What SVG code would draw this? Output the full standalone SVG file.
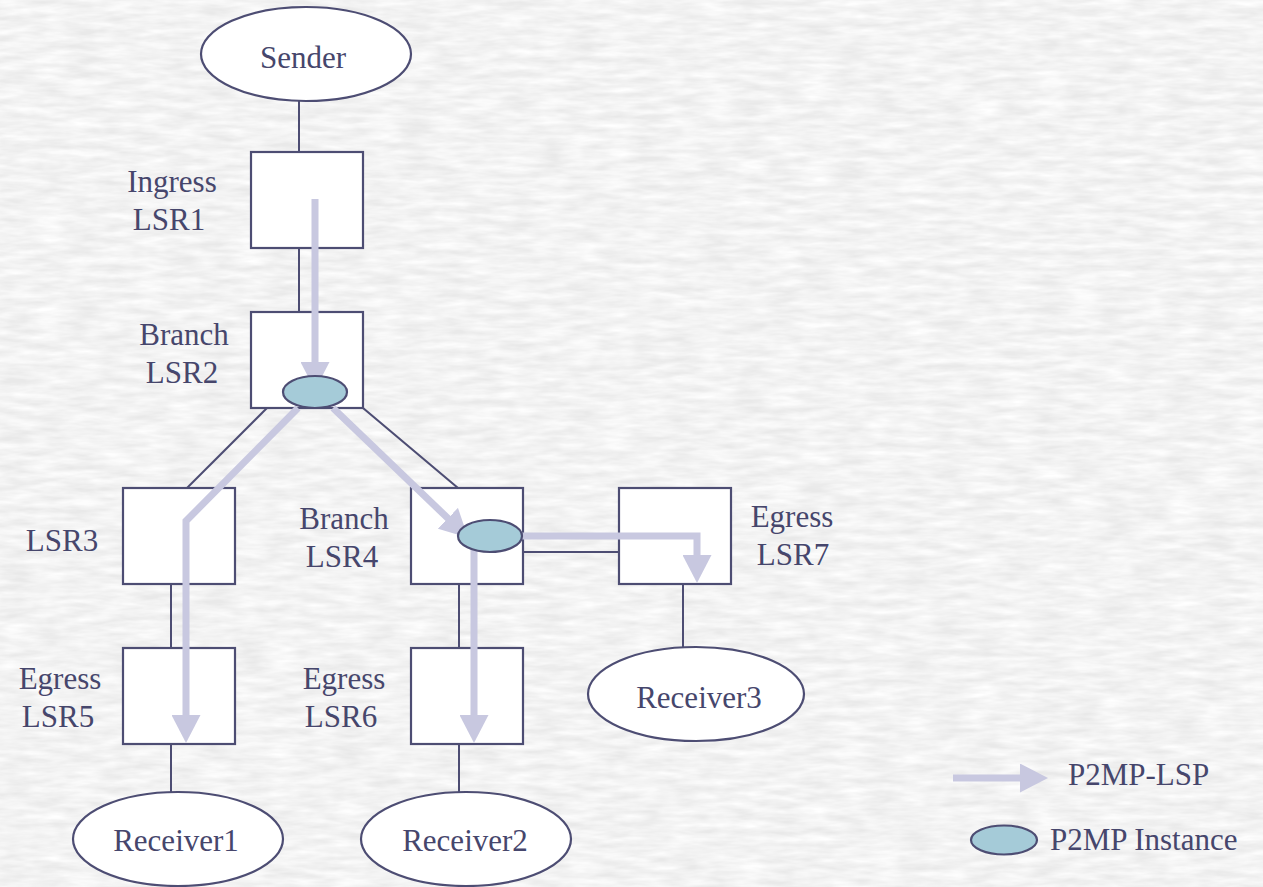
<svg xmlns="http://www.w3.org/2000/svg" width="1263" height="887" viewBox="0 0 1263 887">
  <style>
    .box { fill: #ffffff; stroke: #4d4d73; stroke-width: 2.2; }
    .end { fill: #ffffff; stroke: #4d4d73; stroke-width: 2.2; }
    .inst { fill: #a5cbd8; stroke: #4d4d73; stroke-width: 2.2; }
    .link { fill: none; stroke: #4d4d73; stroke-width: 2; }
    .lsp { fill: none; stroke: #c8c8e0; stroke-width: 7; marker-end: url(#head); }
    .lbl { font-size: 31px; fill: #46466c; }
    .c { text-anchor: middle; }
  </style>
  <defs>
    <marker id="head" markerUnits="userSpaceOnUse" markerWidth="28" markerHeight="29" refX="14" refY="14.5" orient="auto">
      <path d="M0,0 L28,14.5 L0,29 Z" fill="#c8c8e0"/>
    </marker>
    <filter id="marble" x="0" y="0" width="1263" height="887" filterUnits="userSpaceOnUse">
      <feTurbulence type="fractalNoise" baseFrequency="0.03 0.14" numOctaves="3" seed="11"/>
      <feColorMatrix type="matrix" values="0 0 0 0 1  0 0 0 0 1  0 0 0 0 1  1.4 0 0 0 -0.25"/>
    </filter>
  </defs>

  <!-- paper background -->
  <rect width="1263" height="887" fill="#e9e9e9"/>
  <rect width="1263" height="887" fill="#ffffff" filter="url(#marble)"/>

  <!-- links between routers and hosts -->
  <g id="connectors">
    <line class="link" x1="299" y1="101" x2="299" y2="152"/>
    <line class="link" x1="299" y1="248" x2="299" y2="312"/>
    <line class="link" x1="267" y1="408" x2="187" y2="488"/>
    <line class="link" x1="363" y1="408" x2="458" y2="488"/>
    <line class="link" x1="171" y1="584" x2="171" y2="648"/>
    <line class="link" x1="459" y1="584" x2="459" y2="648"/>
    <line class="link" x1="523" y1="552" x2="619" y2="552"/>
    <line class="link" x1="683" y1="584" x2="683" y2="648"/>
    <line class="link" x1="171" y1="744" x2="171" y2="793"/>
    <line class="link" x1="459" y1="744" x2="459" y2="793"/>
  </g>

  <g font-family="'Liberation Serif', 'Times New Roman', Times, 'DejaVu Serif', serif">
  <!-- end hosts -->
  <g id="sender">
    <ellipse class="end" cx="306" cy="54" rx="105" ry="47"/>
    <text class="lbl c" x="303" y="68">Sender</text>
  </g>
  <g id="receiver1">
    <ellipse class="end" cx="178" cy="839" rx="105" ry="47"/>
    <text class="lbl c" x="176" y="851">Receiver1</text>
  </g>
  <g id="receiver2">
    <ellipse class="end" cx="466" cy="839" rx="105" ry="47"/>
    <text class="lbl c" x="465" y="851">Receiver2</text>
  </g>
  <g id="receiver3">
    <ellipse class="end" cx="696" cy="694" rx="108" ry="47"/>
    <text class="lbl c" x="699" y="708">Receiver3</text>
  </g>

  <!-- label switching routers -->
  <g id="lsr1">
    <rect class="box" x="251" y="152" width="112" height="96"/>
    <text class="lbl c" x="172" y="192">Ingress</text>
    <text class="lbl c" x="169" y="230">LSR1</text>
  </g>
  <g id="lsr2">
    <rect class="box" x="251" y="312" width="112" height="96"/>
    <text class="lbl c" x="184" y="345">Branch</text>
    <text class="lbl c" x="182" y="383">LSR2</text>
  </g>
  <g id="lsr3">
    <rect class="box" x="123" y="488" width="112" height="96"/>
    <text class="lbl c" x="62" y="551">LSR3</text>
  </g>
  <g id="lsr4">
    <rect class="box" x="411" y="488" width="112" height="96"/>
    <text class="lbl c" x="344" y="529">Branch</text>
    <text class="lbl c" x="342" y="567">LSR4</text>
  </g>
  <g id="lsr7">
    <rect class="box" x="619" y="488" width="112" height="96"/>
    <text class="lbl c" x="792" y="527">Egress</text>
    <text class="lbl c" x="793" y="565">LSR7</text>
  </g>
  <g id="lsr5">
    <rect class="box" x="123" y="648" width="112" height="96"/>
    <text class="lbl c" x="60" y="689">Egress</text>
    <text class="lbl c" x="58" y="727">LSR5</text>
  </g>
  <g id="lsr6">
    <rect class="box" x="411" y="648" width="112" height="96"/>
    <text class="lbl c" x="344" y="689">Egress</text>
    <text class="lbl c" x="341" y="727">LSR6</text>
  </g>
  </g>

  <!-- P2MP LSP paths -->
  <g id="lsp-paths">
    <path class="lsp" d="M315,199 V376"/>
    <path class="lsp" d="M298,408 L186,521 V729"/>
    <path class="lsp" d="M333,408 L458,528"/>
    <path class="lsp" d="M522,536 H697 V569"/>
    <path class="lsp" d="M474,545 V729"/>
  </g>

  <!-- P2MP instances at branch points -->
  <g id="instance-lsr2">
    <ellipse class="inst" cx="315" cy="392" rx="32" ry="16"/>
  </g>
  <g id="instance-lsr4">
    <ellipse class="inst" cx="490" cy="536" rx="32" ry="16"/>
  </g>

  <!-- legend -->
  <g id="legend" font-family="'Liberation Serif', 'Times New Roman', Times, 'DejaVu Serif', serif">
    <path class="lsp" d="M953,778 H1034"/>
    <text class="lbl" x="1068" y="785">P2MP-LSP</text>
    <ellipse class="inst" cx="1004" cy="840" rx="33" ry="14.5"/>
    <text class="lbl" x="1050" y="850">P2MP Instance</text>
  </g>
</svg>
